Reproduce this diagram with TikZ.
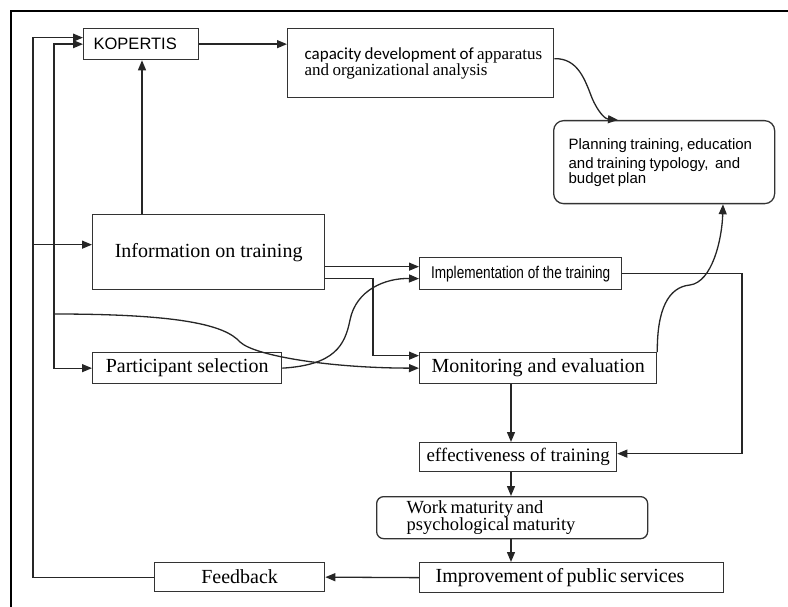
\documentclass[tikz,border=0pt]{standalone}
\usepackage{fontspec}
\setmainfont{Liberation Serif}
\newfontfamily\arialf{Liberation Sans}
\newfontfamily\narrowf[FakeStretch=0.8]{Liberation Sans}
\newfontfamily\calf{Carlito}
\usetikzlibrary{arrows.meta,calc}
\tikzset{
 box/.style={draw=black!80, line width=1.3pt, inner sep=0pt, anchor=north west},
 conn/.style={draw=black!85, line width=1.3pt},
 arr/.style={conn, -{Triangle[length=10pt,width=8pt]}},
 arrboth/.style={conn, {Triangle[length=10pt,width=8pt]}-{Triangle[length=10pt,width=8pt]}},
}
\begin{document}
\begin{tikzpicture}[x=1pt,y=-1pt]
\useasboundingbox (0,0) rectangle (788,607);
\draw[line width=1.5pt] (11,607) -- (11,11) -- (788,11);

\node[box, minimum width=115pt, minimum height=31pt, inner xsep=10pt, text width=95pt, align=left] (kop) at (83,28)
  {\arialf\fontsize{16.5}{18}\selectfont KOPERTIS};
\node[box, minimum width=266pt, minimum height=69pt, inner xsep=17pt, text width=232pt, align=left] (cap) at (287,28)
  {\fontsize{17}{18}\selectfont\mbox{{\calf capacity development of }apparatus}\\\mbox{and organizational analysis}};
\node[box, rounded corners=10pt, minimum width=221pt, minimum height=83pt, inner xsep=15pt, text width=191pt, align=left] (plan) at (553,120)
  {\arialf\fontsize{15}{19}\selectfont Planning training, education\\and training typology,~ and\\budget plan};
\node[box, minimum width=232pt, minimum height=75pt, align=center] (info) at (92,214)
  {\fontsize{20}{22}\selectfont Information on training};
\node[box, minimum width=189pt, minimum height=31pt, align=center] (part) at (92,352)
  {\fontsize{20}{22}\selectfont Participant selection};
\node[box, minimum width=202pt, minimum height=32pt, align=center] (impl) at (419,257)
  {\narrowf\fontsize{17}{19}\selectfont Implementation of the training};
\node[box, minimum width=237pt, minimum height=31pt, align=center] (mon) at (419,352)
  {\fontsize{20}{22}\selectfont Monitoring and evaluation};
\node[box, minimum width=197pt, minimum height=29pt, align=center] (eff) at (419,442)
  {\fontsize{19}{21}\selectfont effectiveness of training};
\node[box, rounded corners=7pt, minimum width=271pt, minimum height=42pt, inner xsep=30pt, text width=211pt, align=left] (work) at (376,496)
  {\fontsize{18.5}{21}\selectfont Work maturity and\\psychological maturity};
\node[box, minimum width=304pt, minimum height=30pt, inner xsep=16pt, text width=272pt, align=left] (imp) at (419,562)
  {\fontsize{20}{22}\selectfont Improvement of public services};
\node[box, minimum width=170pt, minimum height=29pt, align=center] (fb) at (154,562)
  {\fontsize{20}{22}\selectfont Feedback};

\coordinate (La) at (33,0);
\coordinate (Lb) at (54,0);
\coordinate (Vm) at (373,0);
\coordinate (Re) at (742,0);
\coordinate (Cx) at (511,0);
\coordinate (cs) at (54,314);

\draw[arr] (fb.west) -- (fb.west -| La) -- ([yshift=6.5pt]kop.west -| La) -- ([yshift=6.5pt]kop.west);
\draw[arr] ([yshift=7.5pt]info.west -| La) -- ([yshift=7.5pt]info.west);
\draw[arrboth] (part.west) -- (part.west -| Lb) -- (kop.west -| Lb) -- (kop.west);
\draw[arr] (cs) .. controls (180,314) and (225,325) .. (240,342) .. controls (255,356) and (330,368) .. (mon.west);
\draw[arr] ([xshift=50pt]info.north west) -- ([xshift=59pt]kop.south west);
\draw[arr] (kop.east) -- (kop.east -| cap.west);
\draw[arr] ([yshift=-14.5pt]info.east) -- ([yshift=-14.5pt]info.east -| impl.west);
\draw[arr] ([yshift=-26.5pt]info.east) -- ([yshift=-26.5pt]info.east -| Vm) -- ([yshift=12.5pt]mon.west -| Vm) -- ([yshift=12.5pt]mon.west);
\draw[arr] (part.east) .. controls (335,365) and (345,345) .. (350,320) .. controls (356,290) and (385,278) .. ([yshift=-5pt]impl.west);
\draw[arr] ([yshift=4.5pt]cap.east) .. controls (578,58) and (585,80) .. (592,98) .. controls (598,112) and (605,119) .. ([xshift=65pt]plan.north west);
\draw[arr] (mon.north east) .. controls (657,310) and (668,287) .. (690,285) .. controls (712,282) and (722,240) .. ([xshift=170pt]plan.south west);
\draw[arr] (impl.east) -- (impl.east -| Re) -- ([yshift=3.5pt]eff.east -| Re) -- ([yshift=3.5pt]eff.east);
\draw[arr] (mon.south -| Cx) -- (eff.north -| Cx);
\draw[arr] (eff.south -| Cx) -- (work.north -| Cx);
\draw[arr] (work.south -| Cx) -- (imp.north -| Cx);
\draw[arr] (imp.west) -- (fb.east);
\end{tikzpicture}
\end{document}
